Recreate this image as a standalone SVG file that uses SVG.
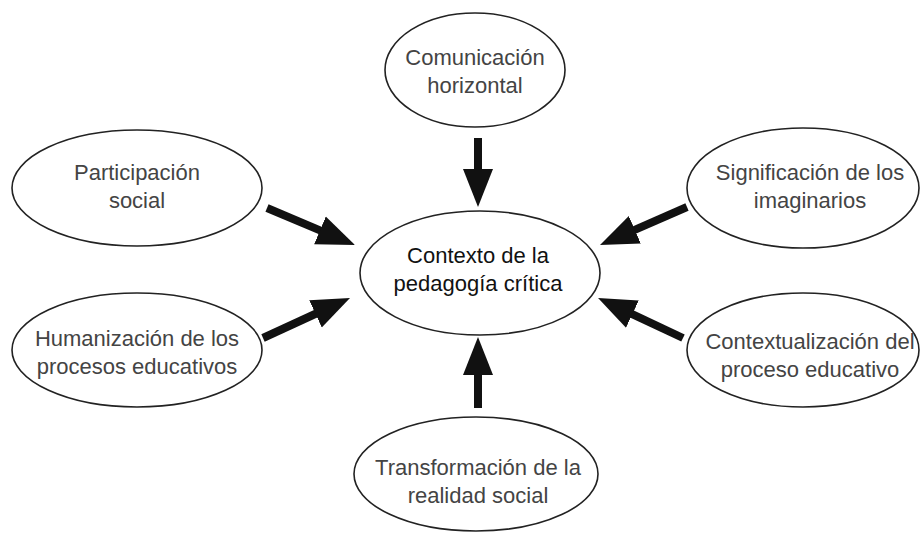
<svg xmlns="http://www.w3.org/2000/svg" width="922" height="533" viewBox="0 0 922 533">
<style>
.node ellipse{fill:#fff;stroke:#222;stroke-width:1.6}
.node text{font-family:"Liberation Sans",Arial,sans-serif;font-size:22px;fill:#444;text-anchor:middle}
#center text{fill:#111}
.conn line{stroke:#111;stroke-width:8;stroke-linecap:butt}
</style>
<defs>
<marker id="ah" markerUnits="userSpaceOnUse" markerWidth="40" markerHeight="32" viewBox="0 -16 40 32" refX="2" refY="0" orient="auto">
<path d="M0,-15 L38,0 L0,15 z" fill="#111"/>
</marker>
</defs>
<rect width="922" height="533" fill="#fff"/>
<g class="conn">
<line x1="478" y1="138" x2="478" y2="171" marker-end="url(#ah)"/>
<line x1="478" y1="408" x2="478" y2="373" marker-end="url(#ah)"/>
<line x1="267" y1="208" x2="321.8" y2="231.1" marker-end="url(#ah)"/>
<line x1="687" y1="207" x2="633" y2="230.6" marker-end="url(#ah)"/>
<line x1="263" y1="338" x2="317.3" y2="313" marker-end="url(#ah)"/>
<line x1="683" y1="338" x2="630.6" y2="313.3" marker-end="url(#ah)"/>
</g>
<g id="center" class="node">
<ellipse cx="480" cy="273" rx="120" ry="62"/>
<text x="478" y="263">Contexto de la</text>
<text x="478" y="291">pedagogía crítica</text>
</g>
<g id="comunicacion" class="node">
<ellipse cx="475" cy="70" rx="90" ry="57"/>
<text x="475" y="65">Comunicación</text>
<text x="475" y="93">horizontal</text>
</g>
<g id="participacion" class="node">
<ellipse cx="137" cy="188" rx="125" ry="58"/>
<text x="137" y="180">Participación</text>
<text x="137" y="208">social</text>
</g>
<g id="significacion" class="node">
<ellipse cx="803" cy="188" rx="116" ry="60"/>
<text x="810" y="180">Significación de los</text>
<text x="810" y="208">imaginarios</text>
</g>
<g id="humanizacion" class="node">
<ellipse cx="137" cy="350" rx="125" ry="57"/>
<text x="137" y="346">Humanización de los</text>
<text x="137" y="374">procesos educativos</text>
</g>
<g id="contextualizacion" class="node">
<ellipse cx="803" cy="350" rx="116" ry="57"/>
<text x="810" y="349">Contextualización del</text>
<text x="810" y="377">proceso educativo</text>
</g>
<g id="transformacion" class="node">
<ellipse cx="476" cy="474" rx="122" ry="57"/>
<text x="478" y="475">Transformación de la</text>
<text x="478" y="503">realidad social</text>
</g>
</svg>
